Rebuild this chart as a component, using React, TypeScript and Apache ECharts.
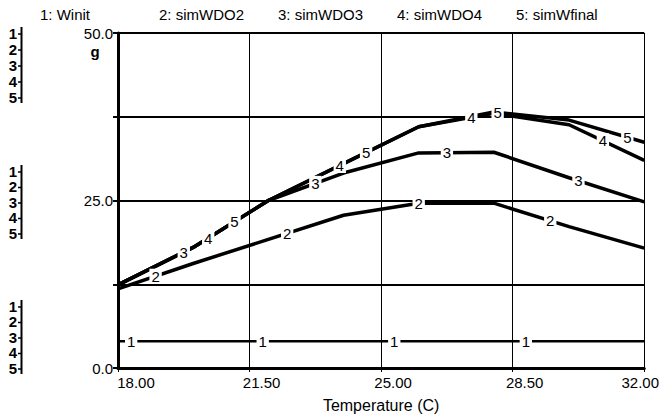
import React, { useEffect, useRef } from "react";
import * as echarts from "echarts";

// Data
const temps = [18, 20, 22, 24, 26, 28, 30, 32];
const winit = [4, 4, 4, 4, 4, 4, 4, 4];
const simWDO2 = [11.8, 15.6, 19.2, 22.8, 24.6, 24.6, 21.1, 17.9];
const simWDO3 = [12.4, 18.0, 25.0, 29.1, 32.1, 32.2, 28.4, 24.8];
const simWDO4 = [12.4, 18.0, 25.0, 30.5, 36.0, 38.0, 36.3, 31.0];
const simWfinal = [12.4, 18.0, 25.0, 30.5, 36.0, 38.2, 37.0, 33.7];
const seriesNames = ["Winit", "simWDO2", "simWDO3", "simWDO4", "simWfinal"];
const seriesValues = [winit, simWDO2, simWDO3, simWDO4, simWfinal];
// temperatures at which each curve carries its inline number label
const labelTemps = [
  [18.35, 21.85, 25.35, 28.85],
  [19.0, 22.5, 26.0, 29.5],
  [19.75, 23.25, 26.75, 30.25],
  [20.4, 23.9, 27.4, 30.9],
  [21.1, 24.6, 28.1, 31.55],
];
const xTickLabels = ["18.00", "21.50", "25.00", "28.50", "32.00"];
const yTickLabels = ["0.0", "", "25.0", "", "50.0"];
const scaleDigits = ["1", "2", "3", "4", "5"];
const xAxisTitle = "Temperature (C)";
const yUnit = "g";

const FONT = "'Liberation Sans', Arial, sans-serif";

function interp(xs: number[], ys: number[], x: number): number {
  for (let i = 0; i < xs.length - 1; i++) {
    if (x >= xs[i] && x <= xs[i + 1]) {
      const t = (x - xs[i]) / (xs[i + 1] - xs[i]);
      return ys[i] + t * (ys[i + 1] - ys[i]);
    }
  }
  return ys[ys.length - 1];
}

export default function App() {
  const ref = useRef<HTMLDivElement>(null);
  useEffect(() => {
    if (!ref.current) return;
    const chart = echarts.init(ref.current, null, { renderer: "svg" });

    const lineSeries = seriesValues.map((vals, k) => ({
      type: "line",
      name: seriesNames[k],
      xAxisIndex: 0,
      data: temps.map((t, i) => [t, vals[i]]),
      symbol: "none",
      lineStyle: { color: "#000", width: k === 0 ? 2.5 : 3.5 },
      z: 3,
      silent: true,
    }));

    const labelSeries = seriesValues.map((vals, k) => ({
      type: "scatter",
      name: seriesNames[k] + "-labels",
      xAxisIndex: 0,
      data: labelTemps[k].map((t) => [t, interp(temps, vals, t)]),
      symbolSize: 1,
      itemStyle: { color: "#fff", opacity: 1 },
      label: {
        show: true,
        position: "inside",
        formatter: String(k + 1),
        color: "#000",
        opacity: 1,
        textBorderWidth: 0,
        fontFamily: FONT,
        fontSize: 15,
        backgroundColor: "#fff",
        padding: [0, 2, 0, 2],
      },
      emphasis: { disabled: true },
      z: 5,
      silent: true,
    }));

    const graphics: any[] = [];
    // top legend
    seriesNames.forEach((n, i) => {
      graphics.push({
        type: "text",
        x: 40 + 119 * i,
        y: 14,
        style: {
          text: `${i + 1}: ${n}`,
          fill: "#000",
          font: `15px ${FONT}`,
          align: "left",
          verticalAlign: "middle",
        },
      });
    });
    // unit label
    graphics.push({
      type: "text",
      x: 95,
      y: 51,
      style: {
        text: yUnit,
        fill: "#000",
        font: `bold 15px ${FONT}`,
        align: "center",
        verticalAlign: "middle",
      },
    });
    // scale indicator groups
    const groups = [
      { y0: 33, step: 16 },
      { y0: 171, step: 15.5 },
      { y0: 306, step: 15.5 },
    ];
    groups.forEach((g) => {
      scaleDigits.forEach((d, i) => {
        const y = g.y0 + g.step * i;
        graphics.push({
          type: "text",
          x: 13,
          y,
          style: {
            text: d,
            fill: "#000",
            font: `bold 15px ${FONT}`,
            align: "center",
            verticalAlign: "middle",
          },
        });
        graphics.push({
          type: "line",
          shape: { x1: 18, y1: y + 1, x2: 21.5, y2: y + 1 },
          style: { stroke: "#000", lineWidth: 1.5 },
        });
      });
      graphics.push({
        type: "line",
        shape: { x1: 21.5, y1: g.y0 - 6, x2: 21.5, y2: g.y0 + g.step * 4 + 6 },
        style: { stroke: "#000", lineWidth: 2 },
      });
    });

    const option: any = {
      animation: false,
      backgroundColor: "#fff",
      grid: { left: 118, right: 15, top: 33, bottom: 52, containLabel: false },
      xAxis: [
        { type: "value", min: 18, max: 32, show: false },
        {
          type: "value",
          min: 0,
          max: 14,
          interval: 3.5,
          position: "bottom",
          name: xAxisTitle,
          nameLocation: "middle",
          nameGap: 29,
          nameTextStyle: { color: "#000", fontFamily: FONT, fontSize: 16 },
          axisLine: { show: true, onZero: false, lineStyle: { color: "#000", width: 3 } },
          axisTick: { show: true, length: 4, lineStyle: { color: "#000", width: 1 } },
          splitLine: { show: true, lineStyle: { color: "#000", width: 1 } },
          axisLabel: {
            margin: 7,
            color: "#000",
            fontFamily: FONT,
            fontSize: 15,
            formatter: (v: number) => {
              const i = Math.round(v / 3.5);
              const key = i === 0 ? "f" : i === xTickLabels.length - 1 ? "l" : "m";
              return `{${key}|${xTickLabels[i]}}`;
            },
            rich: {
              f: { fontFamily: FONT, fontSize: 15, color: "#000", padding: [0, 0, 0, 36] },
              m: { fontFamily: FONT, fontSize: 15, color: "#000", padding: [0, 0, 0, 24] },
              l: { fontFamily: FONT, fontSize: 15, color: "#000", padding: [0, 8, 0, 0] },
            },
          },
        },
      ],
      yAxis: {
        type: "value",
        min: 0,
        max: 50,
        interval: 12.5,
        axisLine: { show: true, lineStyle: { color: "#000", width: 3 } },
        axisTick: { show: true, length: 5, lineStyle: { color: "#000", width: 2 } },
        splitLine: { show: true, lineStyle: { color: "#000", width: 2 } },
        axisLabel: {
          margin: 5,
          color: "#000",
          fontFamily: FONT,
          fontSize: 15,
          formatter: (v: number) => yTickLabels[Math.round(v / 12.5)] || "",
        },
      },
      graphic: graphics,
      series: [...lineSeries, ...labelSeries],
    };
    chart.setOption(option);
    return () => chart.dispose();
  }, []);

  return (
    <div
      ref={ref}
      style={{ position: "absolute", left: 0, top: 0, width: 662, height: 420, background: "#fff" }}
    />
  );
}
